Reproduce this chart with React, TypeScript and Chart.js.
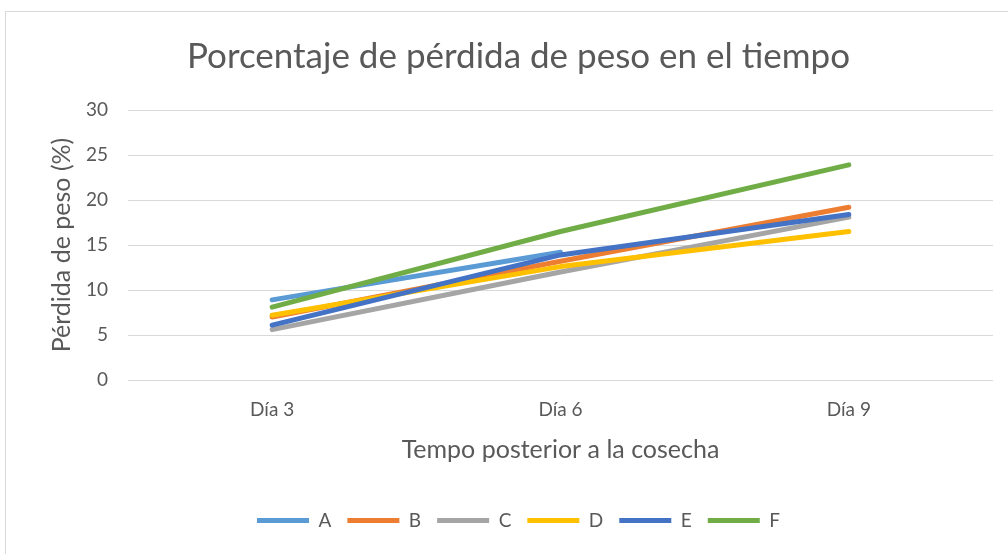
import React, { useEffect, useRef } from "react";
import { Chart, registerables } from "chart.js";

Chart.register(...registerables);

const categories = ["Día 3", "Día 6", "Día 9"];
const seriesNames = ["A", "B", "C", "D", "E", "F"];
const seriesA = [8.9, 14.2, null];
const seriesB = [7.0, 13.2, 19.2];
const seriesC = [5.6, 12.0, 18.1];
const seriesD = [7.2, 12.6, 16.5];
const seriesE = [6.1, 13.9, 18.4];
const seriesF = [8.1, 16.5, 23.9];
const seriesColors = ["#5B9BD5", "#ED7D31", "#A5A5A5", "#FFC000", "#4472C4", "#70AD47"];
const yTicks = [0, 5, 10, 15, 20, 25, 30];

const chartTitle = "Porcentaje de pérdida de peso en el tiempo";
const yTitle = "Pérdida de peso (%)";
const xTitle = "Tempo posterior a la cosecha";

const FONT = "Lato, 'Open Sans', sans-serif";
const TEXT = "#595959";

const borderPlugin = {
  id: "outerBorder",
  beforeDraw(chart: any) {
    const ctx = chart.ctx;
    ctx.save();
    ctx.fillStyle = "#ffffff";
    ctx.fillRect(0, 0, chart.width, chart.height);
    ctx.strokeStyle = "#D9D9D9";
    ctx.lineWidth = 1;
    ctx.strokeRect(5.5, 11.5, 1200, 700);
    ctx.restore();
  },
};

export default function App() {
  const ref = useRef<HTMLCanvasElement | null>(null);

  useEffect(() => {
    if (!ref.current) return;
    const all = [seriesA, seriesB, seriesC, seriesD, seriesE, seriesF];
    const chart = new Chart(ref.current, {
      type: "line",
      data: {
        labels: categories,
        datasets: all.map((d, i) => ({
          label: seriesNames[i],
          data: d,
          borderColor: seriesColors[i],
          backgroundColor: seriesColors[i],
          borderWidth: 5,
          borderCapStyle: "round",
          borderJoinStyle: "round",
          pointRadius: 0,
          pointHoverRadius: 0,
          pointStyle: "line",
          fill: false,
          tension: 0,
          order: all.length - i,
        })),
      },
      options: {
        animation: false,
        responsive: false,
        devicePixelRatio: 1,
        layout: { padding: { left: 44, right: 15, top: 0, bottom: 14 } },
        plugins: {
          title: {
            display: true,
            text: chartTitle,
            color: TEXT,
            font: { family: FONT, size: 35, weight: "normal" },
            padding: { top: 36, bottom: 32 },
          },
          legend: {
            position: "bottom",
            labels: {
              color: TEXT,
              font: { family: FONT, size: 19 },
              usePointStyle: true,
              pointStyle: "line",
              pointStyleWidth: 52,
              boxWidth: 52,
              padding: 16,
              sort: (a: any, b: any) => a.datasetIndex - b.datasetIndex,
            },
          },
          tooltip: { enabled: false },
        },
        scales: {
          x: {
            offset: true,
            grid: { display: false },
            border: { display: false },
            ticks: { color: TEXT, font: { family: FONT, size: 19 }, padding: 10.6 },
            afterFit: (s: any) => {
              s.height = 115;
            },
            title: {
              display: true,
              text: xTitle,
              color: TEXT,
              font: { family: FONT, size: 25 },
              padding: { top: 10, bottom: 30 },
            },
          },
          y: {
            min: 0,
            max: 30,
            afterBuildTicks: (s: any) => {
              s.ticks = yTicks.map((v) => ({ value: v }));
            },
            afterFit: (s: any) => {
              s.width = 84;
            },
            grid: { color: "#D9D9D9", lineWidth: 1, drawTicks: false },
            border: { display: false },
            ticks: { color: TEXT, font: { family: FONT, size: 19 }, padding: 20 },
            title: {
              display: true,
              text: yTitle,
              color: TEXT,
              font: { family: FONT, size: 25 },
              padding: { top: 3, bottom: 0 },
            },
          },
        },
      },
      plugins: [borderPlugin],
    } as any);
    return () => chart.destroy();
  }, []);

  return (
    <div style={{ position: "fixed", left: 0, top: 0, width: 1008, height: 554, background: "#fff" }}>
      <canvas ref={ref} width={1008} height={554} style={{ width: 1008, height: 554, display: "block" }} />
    </div>
  );
}
